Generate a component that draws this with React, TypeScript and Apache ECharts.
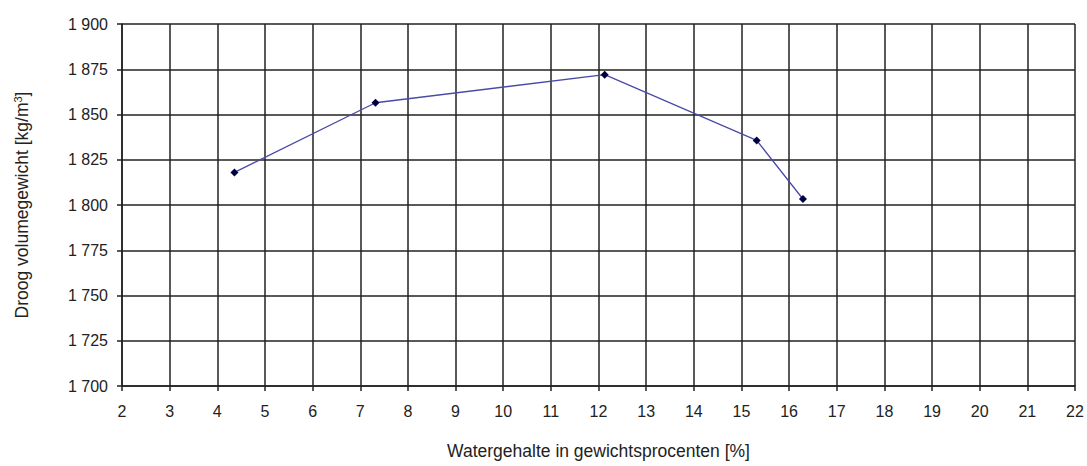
import React, { useEffect, useRef } from "react";
import * as echarts from "echarts";

const moisture = [4.36, 7.32, 12.13, 15.32, 16.29];
const dryDensity = [1818, 1856.5, 1872, 1835.7, 1803.3];
const xTitle = "Watergehalte in gewichtsprocenten [%]";
const yTitle = "Droog volumegewicht [kg/m{sup|3}]";

export default function App() {
  const ref = useRef<HTMLDivElement>(null);
  useEffect(() => {
    if (!ref.current) return;
    const chart = echarts.init(ref.current, null, { renderer: "svg" });
    const font = "Liberation Sans, Arial, sans-serif";
    chart.setOption({
      animation: false,
      backgroundColor: "#ffffff",
      grid: { left: 122, right: 12, top: 24, bottom: 80, containLabel: false },
      xAxis: {
        type: "value",
        min: 2,
        max: 22,
        interval: 1,
        name: xTitle,
        nameLocation: "middle",
        nameGap: 56,
        nameTextStyle: { fontFamily: font, fontSize: 17.5, color: "#222" },
        axisLine: { show: true, lineStyle: { color: "#222", width: 1.5 } },
        axisTick: { show: true, length: 5, lineStyle: { color: "#222", width: 1.5 } },
        axisLabel: { fontFamily: font, fontSize: 16, color: "#222", margin: 17 },
        splitLine: { show: true, lineStyle: { color: "#222", width: 1.5 } },
      },
      yAxis: {
        type: "value",
        min: 1700,
        max: 1900,
        interval: 25,
        name: yTitle,
        nameLocation: "middle",
        nameGap: 91,
        nameTextStyle: {
          fontFamily: font,
          fontSize: 17.5,
          color: "#222",
          rich: {
            sup: { fontFamily: font, fontSize: 11, color: "#222", verticalAlign: "top", padding: [0, 0, 8, 0] },
          },
        },
        axisLine: { show: true, lineStyle: { color: "#222", width: 1.5 } },
        axisTick: { show: true, length: 5, lineStyle: { color: "#222", width: 1.5 } },
        axisLabel: {
          fontFamily: font,
          fontSize: 16,
          color: "#222",
          margin: 14,
          formatter: (v: number) => {
            const s = String(Math.round(v));
            return s.slice(0, 1) + " " + s.slice(1);
          },
        },
        splitLine: { show: true, lineStyle: { color: "#222", width: 1.5 } },
      },
      series: [
        {
          type: "line",
          data: moisture.map((x, i) => [x, dryDensity[i]]),
          symbol: "diamond",
          symbolSize: 8,
          lineStyle: { color: "#4a4aa8", width: 1.3 },
          itemStyle: { color: "#000040" },
        },
      ],
    });
    return () => chart.dispose();
  }, []);
  return <div ref={ref} style={{ width: 1087, height: 466, position: "absolute", left: 0, top: 0 }} />;
}
